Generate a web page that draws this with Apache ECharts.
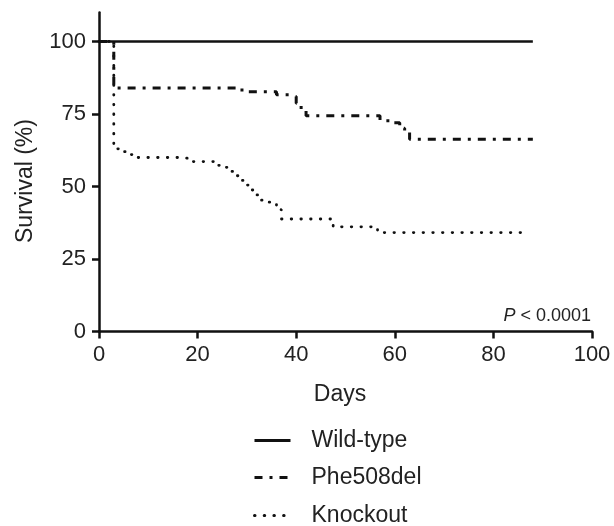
<!DOCTYPE html>
<html>
<head>
<meta charset="utf-8">
<script src="https://cdn.jsdelivr.net/npm/echarts@6/dist/echarts.min.js"></script>
<style>
html,body{margin:0;padding:0;background:#fff;}
#chart{width:614px;height:526px;}
</style>
</head>
<body>
<div id="chart"></div>
<script>
var seriesNames = ['Wild-type', 'Phe508del', 'Knockout'];
var xTicks = [0, 20, 40, 60, 80, 100];
var yTicks = [0, 25, 50, 75, 100];
var wildType = [[0, 100], [88, 100]];
var phe508del = [[0, 100], [3, 84], [29, 82.7], [36, 81.6], [38.5, 81], [40, 78.7], [41, 76.1], [42, 74.4],
  [57, 72.7], [59, 72], [61, 70.1], [62, 68.9], [63, 66.3], [88, 66.3]];
var knockout = [[0, 100], [3, 63], [5, 62], [6, 61], [7.5, 60], [17, 59.6], [18.5, 58.6], [23.5, 57.3],
  [25, 56.6], [26.5, 55.2], [27.5, 53.7], [28.5, 52.1], [29.5, 50.5], [30.5, 48.8], [31.5, 47.1],
  [32.5, 45.3], [34, 44.6], [36, 42], [37, 38.8], [47.5, 36.1], [56.5, 34.1], [87, 34.1]];
var pText = 'P';
var pRest = ' < 0.0001';

var font = 'Liberation Sans, Arial, sans-serif';
var chart = echarts.init(document.getElementById('chart'), null, {renderer: 'canvas'});
var axisCommon = {
  axisLine: {show: true, lineStyle: {color: '#111', width: 2.5}},
  axisTick: {show: true, inside: false, length: 7, lineStyle: {color: '#111', width: 2.5}},
  splitLine: {show: false},
  axisLabel: {color: '#222', fontSize: 22, fontFamily: font}
};
function mkSeries(name, data, width, dash, cap) {
  return {
    name: name, type: 'line', data: data, step: 'end',
    showSymbol: false, symbol: 'none', animation: false,
    lineStyle: {color: '#111', width: width, type: dash, cap: cap || 'butt'},
    itemStyle: {color: '#111'}
  };
}
var legendTops = [429, 466, 504];
var legends = seriesNames.map(function (n, i) {
  return {
    orient: 'vertical', left: 253, top: legendTops[i], padding: 0,
    itemWidth: 36, itemHeight: 14,
    data: [n],
    selectedMode: false,
    itemStyle: {opacity: 0},
    lineStyle: {width: 3},
    textStyle: {color: '#222', fontSize: 23, fontFamily: font, lineHeight: 22, padding: [0, 0, 0, 16]}
  };
});
chart.setOption({
  animation: false,
  backgroundColor: '#fff',
  grid: {left: 99, right: 22, top: 12.5, bottom: 194.5, containLabel: false},
  xAxis: Object.assign({}, axisCommon, {
    type: 'value', min: xTicks[0], max: xTicks[xTicks.length - 1], interval: 20,
    axisLabel: Object.assign({}, axisCommon.axisLabel, {margin: 12})
  }),
  yAxis: Object.assign({}, axisCommon, {
    type: 'value', min: 0, max: 110,
    axisTick: Object.assign({}, axisCommon.axisTick, {customValues: yTicks}),
    axisLabel: Object.assign({}, axisCommon.axisLabel, {margin: 13, customValues: yTicks})
  }),
  legend: legends,
  graphic: [
    {type: 'text', x: 26, y: 181, rotation: Math.PI / 2,
      style: {text: 'Survival (%)', fill: '#222', font: '23px ' + font, textAlign: 'center', textVerticalAlign: 'middle'}},
    {type: 'text', x: 340, y: 395,
      style: {text: 'Days', fill: '#222', font: '23px ' + font, textAlign: 'center', textVerticalAlign: 'middle'}},
    {type: 'text', right: 23, top: 307,
      style: {text: '{i|' + pText + '}{r|' + pRest + '}', fill: '#222',
        rich: {i: {fontStyle: 'italic', fontSize: 18, fontFamily: font, fill: '#222'},
               r: {fontSize: 18, fontFamily: font, fill: '#222'}}}}
  ],
  series: [
    mkSeries(seriesNames[0], wildType, 2.5, 'solid'),
    mkSeries(seriesNames[1], phe508del, 3, [8, 7, 3, 7]),
    mkSeries(seriesNames[2], knockout, 2.8, [0.5, 9.2], 'round')
  ]
});
</script>
</body>
</html>
